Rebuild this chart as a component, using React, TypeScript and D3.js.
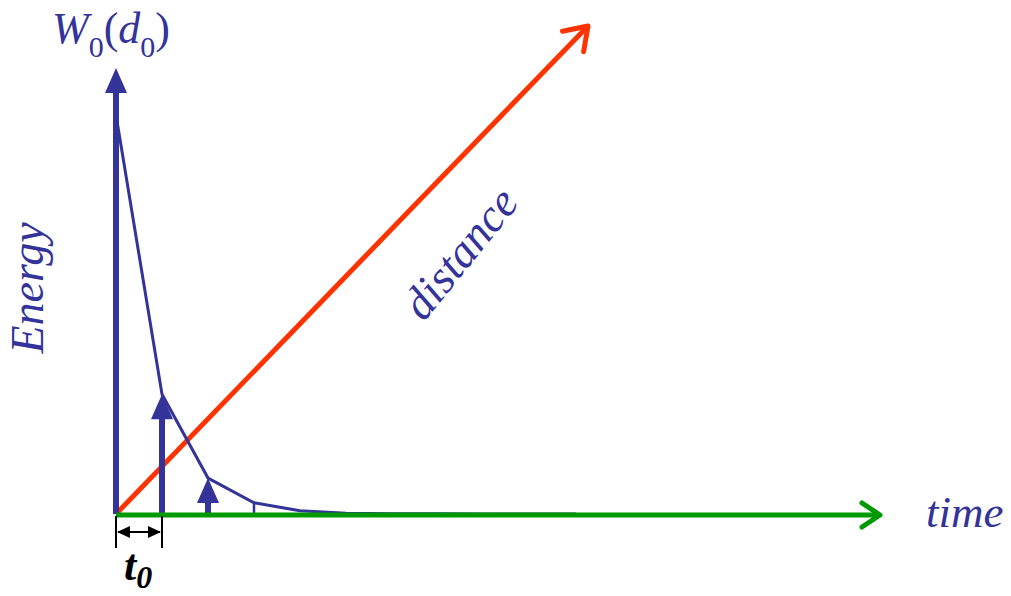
import React, { useEffect, useRef } from "react";
import * as d3 from "d3";

const times = [0, 1, 2, 3, 4, 5, 6, 7, 8, 9, 10];
const energy = [1, 0.3, 0.09, 0.028, 0.008, 0.002, 0.0008, 0.0004, 0.0002, 0.0001, 0];
const arrowSteps = [1, 2];
const axisLabels = { energy: "Energy", time: "time", distance: "distance" };

const BLUE = "#333399";
const RED = "#ff3300";
const GREEN = "#009900";
const SERIF = '"Liberation Serif", "Times New Roman", serif';

export default function App() {
  const ref = useRef<SVGSVGElement | null>(null);
  useEffect(() => {
    if (!ref.current) return;
    d3.select(ref.current)
      .selectAll<SVGElement, unknown>("text, tspan")
      .each(function () {
        this.style.setProperty("font-family", SERIF, "important");
      });
  }, []);

  const x = d3.scaleLinear().domain([0, 10]).range([116, 576]);
  const y = d3.scaleLinear().domain([0, 1]).range([514, 115]);
  const x0 = x(0);
  const y0 = y(0);
  const line = d3
    .line<number>()
    .x((_, i) => x(times[i]))
    .y((d) => y(d));

  const head = (tx: number, ty: number, w: number, h: number) =>
    `M${tx},${ty} L${tx - w / 2},${ty + h} L${tx + w / 2},${ty + h} Z`;

  const redTip = [588, 26];
  const greenTip = [880, y0 + 1];
  const ang = Math.atan2(redTip[1] - y0, redTip[0] - x0);
  const armLen = 26;
  const arm = (a: number) => [redTip[0] - armLen * Math.cos(ang + a), redTip[1] - armLen * Math.sin(ang + a)];
  const a1 = arm(0.6);
  const a2 = arm(-0.6);
  const ts = { fontFamily: "Liberation Serif" };

  return (
    <svg ref={ref} width={1011} height={596} style={{ position: "absolute", left: 0, top: 0, background: "#fff" }}>
      <line x1={x0} y1={y0} x2={redTip[0]} y2={redTip[1]} stroke={RED} strokeWidth={5} />
      <polyline
        points={`${a1[0]},${a1[1]} ${redTip[0]},${redTip[1]} ${a2[0]},${a2[1]}`}
        fill="none"
        stroke={RED}
        strokeWidth={5}
        strokeLinecap="round"
        strokeLinejoin="round"
      />
      <path d={line(energy) || ""} fill="none" stroke={BLUE} strokeWidth={3} />
      <line x1={x0} y1={y0} x2={x0} y2={88} stroke={BLUE} strokeWidth={6} />
      <path d={head(x0, 68, 22, 25)} fill={BLUE} />
      {arrowSteps.map((t) => (
        <g key={t}>
          <line x1={x(t)} y1={y0} x2={x(t)} y2={y(energy[t]) + 20} stroke={BLUE} strokeWidth={6} />
          <path d={head(x(t), y(energy[t]), 22, 25)} fill={BLUE} />
        </g>
      ))}
      <line x1={x(3)} y1={y0} x2={x(3)} y2={y(energy[3])} stroke={BLUE} strokeWidth={2.5} />
      <line x1={x0} y1={y0 + 1} x2={greenTip[0] - 2} y2={greenTip[1]} stroke={GREEN} strokeWidth={5} />
      <polyline
        points={`${greenTip[0] - 18},${greenTip[1] - 12} ${greenTip[0]},${greenTip[1]} ${greenTip[0] - 18},${greenTip[1] + 12}`}
        fill="none"
        stroke={GREEN}
        strokeWidth={5}
        strokeLinecap="round"
        strokeLinejoin="round"
      />
      <line x1={x(0)} y1={y0 + 2} x2={x(0)} y2={548} stroke="#000" strokeWidth={2} />
      <line x1={x(1)} y1={y0 + 2} x2={x(1)} y2={548} stroke="#000" strokeWidth={2} />
      <line x1={x(0) + 2} y1={532} x2={x(1) - 2} y2={532} stroke="#000" strokeWidth={2} />
      <path d={`M${x(0) + 1},532 L${x(0) + 14},526 L${x(0) + 14},538 Z`} fill="#000" />
      <path d={`M${x(1) - 1},532 L${x(1) - 14},526 L${x(1) - 14},538 Z`} fill="#000" />
      <text x={124} y={580} style={ts} fontSize={44} fontStyle="italic" fontWeight="bold" fill="#000">
        t<tspan fontSize={32} dy={8}>0</tspan>
      </text>
      <text x={52} y={43} style={ts} fontSize={44} fontStyle="italic" fill={BLUE}>
        W<tspan fontStyle="normal" fontSize={30} dy={14}>0</tspan>
        <tspan dy={-14} fontStyle="normal">(</tspan>
        <tspan>d</tspan>
        <tspan fontStyle="normal" fontSize={30} dy={14}>0</tspan>
        <tspan dy={-14} fontStyle="normal">)</tspan>
      </text>
      <text transform="translate(43,288) rotate(-90)" textAnchor="middle" style={ts} fontSize={46} fontStyle="italic" fill={BLUE}>
        {axisLabels.energy}
      </text>
      <text transform="translate(472,263) rotate(-51)" textAnchor="middle" style={ts} fontSize={46} fontStyle="italic" fill={BLUE}>
        {axisLabels.distance}
      </text>
      <text x={926} y={527} style={ts} fontSize={45} fontStyle="italic" fill={BLUE}>
        {axisLabels.time}
      </text>
    </svg>
  );
}
